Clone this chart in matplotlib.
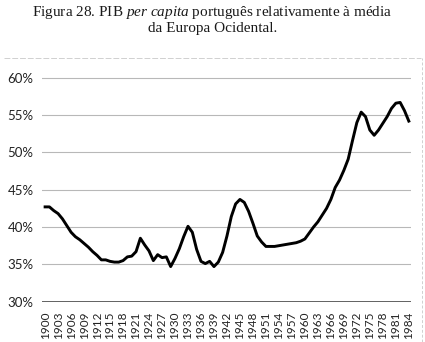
import matplotlib
matplotlib.use("Agg")
import matplotlib.pyplot as plt
from matplotlib.lines import Line2D

plt.rcParams["mathtext.fontset"] = "custom"
plt.rcParams["mathtext.rm"] = "Liberation Serif"
plt.rcParams["mathtext.it"] = "Liberation Serif:italic"

years = list(range(1900, 1985))
values = [
    42.7, 42.7, 42.2, 41.8, 41.1, 40.2, 39.3, 38.7, 38.3, 37.8,   # 1900-1909
    37.3, 36.7, 36.2, 35.6, 35.6, 35.4, 35.3, 35.3, 35.5, 36.0,   # 1910-1919
    36.1, 36.7, 38.5, 37.6, 36.8, 35.5, 36.3, 35.9, 36.0, 34.7,   # 1920-1929
    35.8, 37.1, 38.7, 40.1, 39.3, 37.0, 35.4, 35.1, 35.4, 34.7,   # 1930-1939
    35.3, 36.6, 38.8, 41.4, 43.1, 43.7, 43.3, 42.1, 40.5, 38.8,   # 1940-1949
    38.0, 37.4, 37.4, 37.4, 37.5, 37.6, 37.7, 37.8, 37.9, 38.1,   # 1950-1959
    38.4, 39.2, 40.0, 40.7, 41.6, 42.5, 43.7, 45.3, 46.3, 47.6,   # 1960-1969
    49.1, 51.6, 54.0, 55.4, 54.8, 53.0, 52.3, 53.0, 53.9, 54.8,   # 1970-1979
    55.9, 56.6, 56.7, 55.6, 54.2,                                 # 1980-1984
]
yticks = [30, 35, 40, 45, 50, 55, 60]
ytick_labels = ["30%", "35%", "40%", "45%", "50%", "55%", "60%"]
xticks = list(range(1900, 1985, 3))
title = ("Figura 28. PIB $\\mathit{per\\ capita}$ português relativamente à média\n"
         "da Europa Ocidental.")

fig = plt.figure(figsize=(4.25, 3.42), dpi=100)
ax = fig.add_axes([0.099, 0.118, 0.868, 0.661])

for yv in yticks[1:]:
    ax.axhline(yv, color="#b8b8b8", lw=0.8, zorder=1)
ax.axhline(30, color="#555555", lw=1.3, zorder=1)

ax.plot(years, values, color="black", lw=2.1, zorder=3, solid_joinstyle="round")

ax.set_xlim(1899.3, 1984.5)
ax.set_ylim(30, 60.3)
ax.set_yticks(yticks)
ax.set_yticklabels(ytick_labels, fontfamily="Lato", fontsize=9.5, color="#222222")
ax.set_xticks(xticks)
ax.set_xticklabels([str(x) for x in xticks], rotation=90, fontfamily="Lato",
                   fontsize=8.5, color="#222222")
ax.tick_params(axis="both", length=0)
ax.tick_params(axis="x", pad=7)
ax.tick_params(axis="y", pad=6)
for s in ax.spines.values():
    s.set_visible(False)

fig.text(0.5, 0.988, title, ha="center", va="top", fontfamily="Liberation Serif",
         fontsize=11, linespacing=1.1, color="#1a1a1a")

fig.add_artist(Line2D([0.01, 0.99], [1 - 58.3 / 342] * 2, color="#d0d0d0", lw=0.7,
                      ls=(0, (6, 2))))
fig.add_artist(Line2D([422 / 425] * 2, [0.0, 1 - 58.3 / 342], color="#d0d0d0", lw=0.7,
                      ls=(0, (3, 2))))

fig.savefig("out.png", dpi=100)
